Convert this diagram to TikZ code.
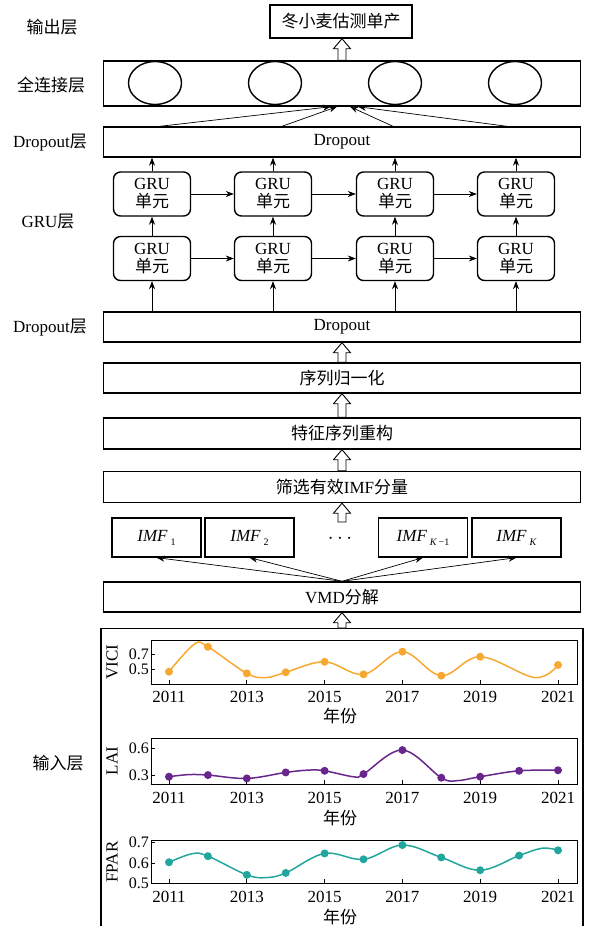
\documentclass[tikz,border=0pt]{standalone}
\usepackage{fontspec}
\setmainfont{Liberation Serif}
\newfontfamily\cjk{Noto Sans CJK SC}
\usepackage{tikz}
\usetikzlibrary{shapes.geometric, arrows.meta, positioning, calc}
\definecolor{vicicol}{RGB}{247,168,48}
\definecolor{laicol}{RGB}{104,38,140}
\definecolor{fparcol}{RGB}{32,166,156}
\tikzstyle{layer} = [rectangle, draw, line width=1.4pt, minimum width=477pt, minimum height=30pt, inner sep=0pt]
\tikzstyle{gru} = [rectangle, draw, line width=1.4pt, rounded corners=7pt, minimum width=77pt, minimum height=44pt, inner sep=0pt, align=center]
\tikzstyle{imf} = [rectangle, draw, line width=1.2pt, minimum width=89pt, minimum height=39pt, inner sep=0pt]
\tikzstyle{neuron} = [ellipse, draw, line width=1.4pt, minimum width=53pt, minimum height=43pt]
\tikzstyle{arrow} = [line width=0.7pt, -{Stealth[length=8pt,width=6pt]}]
\tikzstyle{hollow} = [draw, fill=white, line width=0.9pt]
\tikzstyle{curve} = [line width=1.5pt]
\tikzstyle{ticklbl} = [anchor=east, inner sep=0pt, font=\fontsize{16}{16}\selectfont]
\newcommand{\hollowup}[2]{\draw[hollow] let \p1=(#1), \p2=(#2) in
  (\x1-4pt,\y1) -- (\x1-4pt,\y2-10pt) -- (\x1-8.5pt,\y2-10pt) -- (\x1,\y2)
  -- (\x1+8.5pt,\y2-10pt) -- (\x1+4pt,\y2-10pt) -- (\x1+4pt,\y1) -- cycle;}

\begin{document}
\begin{tikzpicture}[x=1pt, y=-1pt, font=\fontsize{17}{19}\selectfont]
\useasboundingbox (0,0) rectangle (593,926);

% layer names
\node (lout) at (52,27) {\cjk 输出层};
\node (lfc) at (51,85) {\cjk 全连接层};
\node (ldrop1) at (50,143) {Dropout{\cjk 层}};
\node (lgru) at (48,222) {GRU{\cjk 层}};
\node (ldrop2) at (50,328) {Dropout{\cjk 层}};
\node (lin) at (58,763) {\cjk 输入层};

% output and fully connected layer
\node (out) [rectangle, draw, line width=1.4pt, minimum width=142pt, minimum height=33pt] at (341,21.5) {\cjk 冬小麦估测单产};
\node (fc) [layer, minimum height=45pt] at (342,83.5) {};
\foreach \x [count=\i] in {155,275,395,515}
  \node (n\i) [neuron] at (\x,83) {};
\node (drop1) [layer] at (342,142) {Dropout};

% GRU layer
\foreach \x [count=\i] in {152,273,395,516} {
  \node (g1\i) [gru] at (\x,194) {GRU\\[-1pt]{\cjk 单元}};
  \node (g2\i) [gru] at (\x,258.5) {GRU\\[-1pt]{\cjk 单元}};
}
\node (drop2) [layer] at (342,327) {Dropout};

% preprocessing
\node (norm) [layer] at (342,378) {\cjk 序列归一化};
\node (recon) [layer, minimum height=31pt] at (342,433.5) {\cjk 特征序列重构};
\node (select) [layer, minimum height=31pt] at (342,487) {{\cjk 筛选有效}IMF{\cjk 分量}};
\node (imf1) [imf] at (156.5,537.5) {\textit{IMF}\,\raisebox{-4pt}{\fontsize{10}{10}\selectfont 1}};
\node (imf2) [imf] at (249.5,537.5) {\textit{IMF}\,\raisebox{-4pt}{\fontsize{10}{10}\selectfont 2}};
\node (dots) at (340,539) {\fontsize{20}{20}\selectfont$\cdots$};
\node (imfk1) [imf] at (423,537.5) {\textit{IMF}\,\raisebox{-4pt}{\fontsize{10}{10}\selectfont\textit{K}\,−1}};
\node (imfk) [imf] at (516.5,537.5) {\textit{IMF}\,\raisebox{-4pt}{\fontsize{10}{10}\selectfont\textit{K}}};
\coordinate (imftop) at (342,522);
\node (vmd) [layer] at (342,597) {VMD{\cjk 分解}};
\node (input) [draw, line width=1.2pt, minimum width=482pt, minimum height=310pt, anchor=north] at (342,628) {};

% connectors
\hollowup{fc.north}{out.south}
\draw [arrow] ($(drop1.north)+(-182,0)$) -- ($(fc.south)+(-11,0)$);
\draw [arrow] ($(drop1.north)+(-60,0)$) -- ($(fc.south)+(-5,0)$);
\draw [arrow] ($(drop1.north)+(51,0)$) -- ($(fc.south)+(8,0)$);
\draw [arrow] ($(drop1.north)+(165,0)$) -- ($(fc.south)+(16,0)$);
\foreach \i in {1,...,4} {
  \draw [arrow] (g1\i) -- (g1\i |- drop1.south);
  \draw [arrow] (g2\i) -- (g1\i);
  \draw [arrow] (drop2.north -| g2\i) -- (g2\i);
}
\foreach \i/\j in {1/2,2/3,3/4} {
  \draw [arrow] (g1\i) -- (g1\j);
  \draw [arrow] (g2\i) -- (g2\j);
}
\hollowup{norm.north}{drop2.south}
\hollowup{recon.north}{norm.south}
\hollowup{select.north}{recon.south}
\hollowup{imftop}{select.south}
\foreach \m in {imf1,imf2,imfk1,imfk}
  \draw [arrow] (vmd.north) -- (\m.south);
\hollowup{input.north}{vmd.south}

% VICI
\draw [line width=0.8pt] (151,640) rectangle (577,684);
\foreach \yr [count=\k from 0] in {2011,2013,2015,2017,2019,2021} {
  \draw [line width=0.8pt] ({169+77.8*\k},684) -- ++(0,-4);
  \node at ({169+77.8*\k},697) {\yr};
}
\draw [line width=0.8pt] (151,654.3) -- ++(4,0) (151,669.3) -- ++(4,0);
\node [ticklbl] at (149,654.3) {0.7};
\node [ticklbl] at (149,669.3) {0.5};
\node [rotate=90, inner sep=1pt] at (112,662) {VICI};
\node at (340,716) {\cjk 年份};
\begin{scope}[shift={(169,706.8)}, x=38.9pt, y=75pt]
  \draw [vicicol, curve] plot [smooth, tension=0.6] coordinates {(0,0.468) (0.65,0.835) (1,0.80) (2,0.446) (2.5,0.39) (3,0.46) (4,0.60) (5,0.433) (6,0.735) (7,0.415) (8,0.668) (9.4,0.39) (10,0.557)};
  \foreach \i/\v in {0/0.468,1/0.80,2/0.446,3/0.46,4/0.60,5/0.433,6/0.735,7/0.415,8/0.668,10/0.557}
    \fill [vicicol] (\i,\v) circle (4pt);
\end{scope}

% LAI
\draw [line width=0.8pt] (151,738) rectangle (577,784);
\foreach \yr [count=\k from 0] in {2011,2013,2015,2017,2019,2021} {
  \draw [line width=0.8pt] ({169+77.8*\k},784) -- ++(0,-4);
  \node at ({169+77.8*\k},798) {\yr};
}
\draw [line width=0.8pt] (151,748.3) -- ++(4,0) (151,775.7) -- ++(4,0);
\node [ticklbl] at (149,748.3) {0.6};
\node [ticklbl] at (149,775.7) {0.3};
\node [rotate=90, inner sep=1pt] at (112,761) {LAI};
\node at (340,818) {\cjk 年份};
\begin{scope}[shift={(169,803)}, x=38.9pt, y=91pt]
  \draw [laicol, curve] plot [smooth, tension=0.6] coordinates {(0,0.289) (0.5,0.312) (1,0.307) (2,0.27) (3,0.336) (3.6,0.362) (4,0.354) (4.75,0.288) (5,0.318) (6,0.582) (7,0.278) (7.4,0.245) (8,0.289) (9,0.354) (10,0.36)};
  \foreach \i/\v in {0/0.289,1/0.307,2/0.27,3/0.336,4/0.354,5/0.318,6/0.582,7/0.278,8/0.289,9/0.354,10/0.36}
    \fill [laicol] (\i,\v) circle (4pt);
\end{scope}

% FPAR
\draw [line width=0.8pt] (151,840) rectangle (577,883);
\foreach \yr [count=\k from 0] in {2011,2013,2015,2017,2019,2021} {
  \draw [line width=0.8pt] ({169+77.8*\k},883) -- ++(0,-4);
  \node at ({169+77.8*\k},897) {\yr};
}
\draw [line width=0.8pt] (151,842.3) -- ++(4,0) (151,863.3) -- ++(4,0);
\node [ticklbl] at (149,842.3) {0.7};
\node [ticklbl] at (149,863.3) {0.6};
\node [ticklbl] at (149,883.3) {0.5};
\node [rotate=90, inner sep=1pt] at (112,862) {FPAR};
\node at (340,917) {\cjk 年份};
\begin{scope}[shift={(169,989.3)}, x=38.9pt, y=210pt]
  \draw [fparcol, curve] plot [smooth, tension=0.6] coordinates {(0,0.605) (0.6,0.646) (1,0.634) (2,0.545) (2.5,0.532) (3,0.554) (4,0.647) (5,0.619) (6,0.687) (7,0.628) (8,0.567) (9,0.637) (9.6,0.672) (10,0.662)};
  \foreach \i/\v in {0/0.605,1/0.634,2/0.545,3/0.554,4/0.647,5/0.619,6/0.687,7/0.628,8/0.567,9/0.637,10/0.662}
    \fill [fparcol] (\i,\v) circle (4pt);
\end{scope}
\end{tikzpicture}
\end{document}
